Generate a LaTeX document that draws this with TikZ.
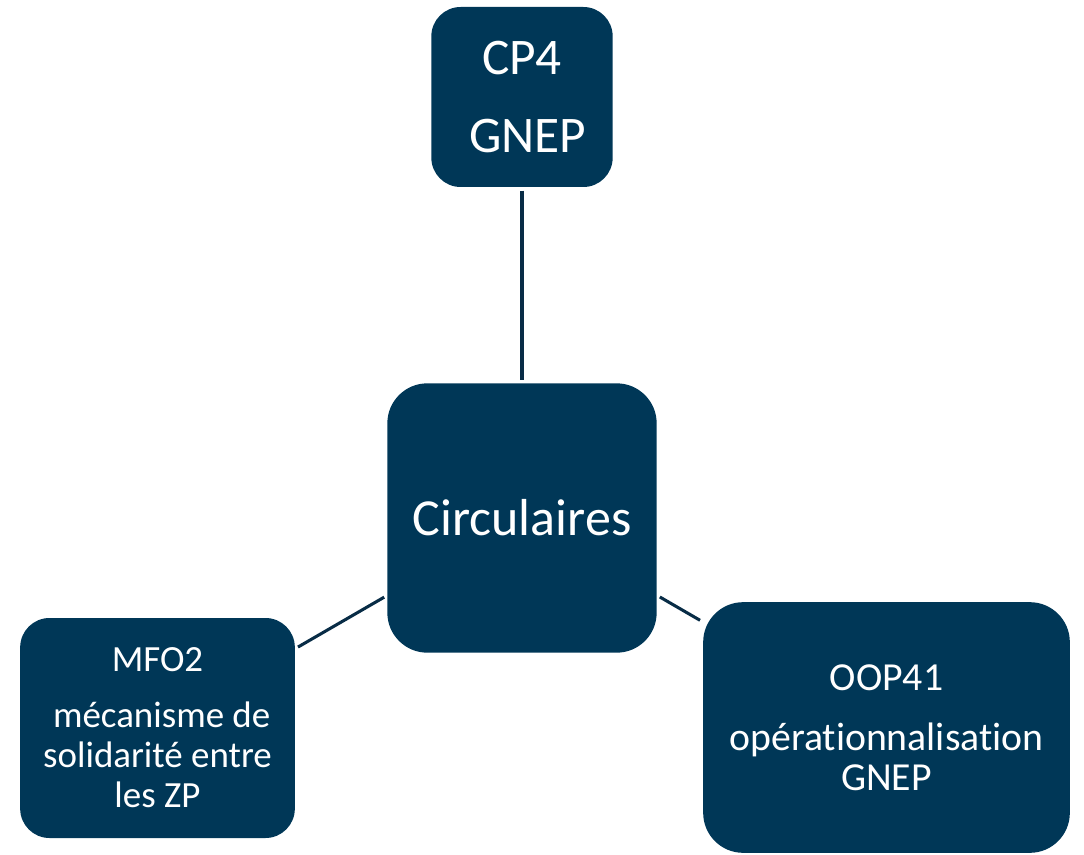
\documentclass[tikz,border=0pt]{standalone}
\usepackage{fontspec}
\setmainfont{Carlito}[Ligatures=NoCommon]
\usetikzlibrary{positioning}

\definecolor{navy}{RGB}{0,55,87}
\definecolor{linknavy}{RGB}{8,44,70}

\tikzset{
  box/.style={rectangle, fill=navy, text=white, align=center, inner sep=0pt},
  link/.style={draw=linknavy, line width=2.3pt, shorten <=2.5pt, shorten >=2.5pt}
}

\begin{document}
\begin{tikzpicture}[x=0.75pt,y=-0.75pt]
\useasboundingbox (0,0) rectangle (1084,855);

% Centre
\node[box, rounded corners=30pt, minimum width=202pt, minimum height=202pt,
  font=\fontsize{39}{47}\selectfont] (circ) at (522,518) {Circulaires};

% Surrounding boxes
\node[box, rounded corners=22pt, minimum width=136pt, minimum height=135pt,
  font=\fontsize{38.5}{47}\selectfont] (cp) at (522,97) {CP4\\[11pt]\ GNEP};
\node[box, rounded corners=22pt, minimum width=206pt, minimum height=165pt,
  font=\fontsize{27.7}{30}\selectfont] (mfo) at (157.5,728)
  {MFO2\\[12pt]\ mécanisme de\\solidarité entre\\les ZP};
\node[box, rounded corners=30pt, minimum width=275pt, minimum height=188pt,
  font=\fontsize{29.8}{30}\selectfont] (oop) at (886.5,727.5)
  {OOP41\\[15pt]opérationnalisation\\GNEP};

% Links
\draw[link] (cp) -- (circ);
\draw[link] (mfo) -- (circ);
\draw[link] (oop) -- (circ);

\end{tikzpicture}
\end{document}
